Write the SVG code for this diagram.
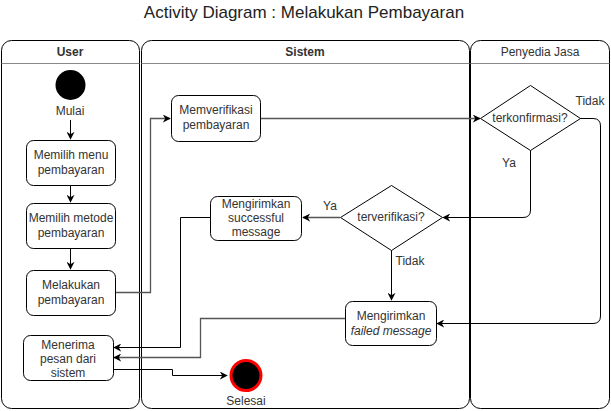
<svg xmlns="http://www.w3.org/2000/svg" width="611" height="411" viewBox="0 0 611 411">
<style>
text{font-family:"Liberation Sans",Arial,sans-serif;font-size:12px;fill:#333;text-anchor:middle}
.lane{fill:none;stroke:#000;stroke-width:1}
.hdr{stroke:#888;stroke-width:1}
.box{fill:#fff;stroke:#000;stroke-width:1}
.c{fill:none;stroke:#000;stroke-width:1}
.g{fill:none;stroke:#555;stroke-width:1.3}
</style>
<defs>
<marker id="a" viewBox="0 0 10 10" refX="9" refY="5" markerWidth="8" markerHeight="8" orient="auto" markerUnits="userSpaceOnUse"><path d="M0,0 L10,5 L0,10 L3,5 z" fill="#000"/></marker>
</defs>
<text x="304" y="18" style="font-size:17px;fill:#222">Activity Diagram : Melakukan Pembayaran</text>
<g id="lanes">
<rect class="lane" x="1.5" y="40.5" width="138" height="368" rx="10"/>
<line class="hdr" x1="1.5" y1="63.5" x2="139.5" y2="63.5"/>
<text x="70" y="56" style="font-weight:bold">User</text>
<rect class="lane" x="141.5" y="40.5" width="328" height="368" rx="10"/>
<line class="hdr" x1="141.5" y1="63.5" x2="469.5" y2="63.5"/>
<text x="305" y="56" style="font-weight:bold">Sistem</text>
<rect class="lane" x="470.5" y="40.5" width="139" height="368" rx="10"/>
<line class="hdr" x1="470.5" y1="63.5" x2="609.5" y2="63.5"/>
<text x="540" y="56">Penyedia Jasa</text>
</g>
<g id="connectors">
<path class="c" d="M70.5,120 V139" marker-end="url(#a)"/>
<path class="c" d="M70.5,185 V202" marker-end="url(#a)"/>
<path class="c" d="M70.5,248 V269" marker-end="url(#a)"/>
<path class="g" d="M115,292.5 H150.5 V118.5 H170" marker-end="url(#a)"/>
<path class="g" d="M260,118.5 H480" marker-end="url(#a)"/>
<path class="c" d="M530.5,150 V210 Q530.5,217.5 523,217.5 H443" marker-end="url(#a)"/>
<text x="509" y="167">Ya</text>
<path class="c" d="M580,118.5 H593 Q600.5,118.5 600.5,126 V316 Q600.5,323.5 593,323.5 H437" marker-end="url(#a)"/>
<text x="590" y="105">Tidak</text>
<path class="g" d="M340,217.5 H303" marker-end="url(#a)"/>
<text x="330" y="210">Ya</text>
<path class="c" d="M391.5,250 V300" marker-end="url(#a)"/>
<text x="410" y="265">Tidak</text>
<path class="c" d="M210,217.5 H180.5 V347.5 H114" marker-end="url(#a)"/>
<path class="g" d="M345,318.5 H200.5 V357.5 H114" marker-end="url(#a)"/>
<path class="c" d="M113,369.5 H172.5 V375.5 H227" marker-end="url(#a)"/>
</g>
<g id="start">
<circle cx="70.5" cy="85" r="15" fill="#000"/>
<text x="70" y="115">Mulai</text>
</g>
<g id="menu">
<rect class="box" x="26.5" y="140.5" width="89" height="45" rx="7"/>
<text x="71" y="159">Memilih menu</text>
<text x="71" y="174">pembayaran</text>
</g>
<g id="metode">
<rect class="box" x="26.5" y="203.5" width="89" height="45" rx="7"/>
<text x="71" y="222">Memilih metode</text>
<text x="71" y="237">pembayaran</text>
</g>
<g id="melakukan">
<rect class="box" x="26.5" y="270.5" width="89" height="45" rx="7"/>
<text x="71" y="289">Melakukan</text>
<text x="71" y="304">pembayaran</text>
</g>
<g id="menerima">
<rect class="box" x="23.5" y="335.5" width="90" height="45" rx="7"/>
<text x="68" y="349">Menerima</text>
<text x="68" y="363">pesan dari</text>
<text x="68" y="377">sistem</text>
</g>
<g id="memverifikasi">
<rect class="box" x="171.5" y="95.5" width="89" height="46" rx="7"/>
<text x="216" y="114">Memverifikasi</text>
<text x="216" y="129">pembayaran</text>
</g>
<g id="terkonfirmasi">
<polygon class="box" points="530.5,85.5 580.5,118.5 530.5,150.5 480.5,118.5"/>
<text x="530" y="122">terkonfirmasi?</text>
</g>
<g id="terverifikasi">
<polygon class="box" points="391.5,185.5 442.5,217.5 391.5,250.5 340.5,217.5"/>
<text x="391" y="221">terverifikasi?</text>
</g>
<g id="successful">
<rect class="box" x="210.5" y="196.5" width="91" height="44" rx="7"/>
<text x="256" y="208">Mengirimkan</text>
<text x="256" y="222">successful</text>
<text x="256" y="236">message</text>
</g>
<g id="failed">
<rect class="box" x="345.5" y="301.5" width="91" height="44" rx="7"/>
<text x="391" y="320">Mengirimkan</text>
<text x="391" y="335" style="font-style:italic">failed message</text>
</g>
<g id="end">
<circle cx="246" cy="375.5" r="15" fill="#000" stroke="#f00" stroke-width="3"/>
<text x="246" y="405">Selesai</text>
</g>
</svg>
